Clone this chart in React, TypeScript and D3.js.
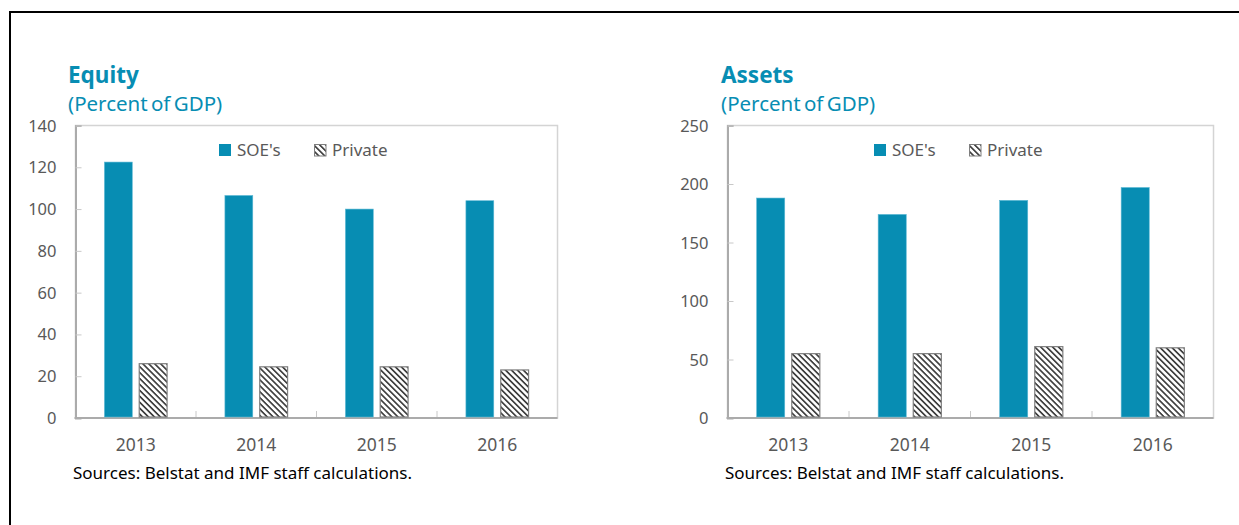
import React, { useEffect, useRef } from "react";
import * as d3 from "d3";

const years = ["2013", "2014", "2015", "2016"];
const seriesNames = ["SOE's", "Private"];

const equitySoe = [122.5, 106.5, 100, 104];
const equityPrivate = [26, 24.5, 24.5, 23];
const equityTicks = [0, 20, 40, 60, 80, 100, 120, 140];

const assetsSoe = [188, 174, 186, 197];
const assetsPrivate = [55, 55, 61, 60];
const assetsTicks = [0, 50, 100, 150, 200, 250];

const TEAL = "#078db3";
const FONT = "'Noto Sans', sans-serif";

interface IPanel {
  title: string
  soe: number[]
  priv: number[]
  ticks: number[]
  left: number
  right: number
  titleX: number
  legendX: number
}

const panels: IPanel[] = [
  { title: "Equity", soe: equitySoe, priv: equityPrivate, ticks: equityTicks,
    left: 75.5, right: 557.5, titleX: 68, legendX: 219 },
  { title: "Assets", soe: assetsSoe, priv: assetsPrivate, ticks: assetsTicks,
    left: 727.5, right: 1213.5, titleX: 721, legendX: 874 },
];

const App: React.FC = (): JSX.Element => {
  const ref = useRef<SVGSVGElement>(null);

  useEffect(() => {
    const svg = d3.select(ref.current);
    svg.selectAll("*").remove();

    // hatch pattern for the private bars (downward diagonal)
    const defs = svg.append("defs");
    const pat = defs.append("pattern")
      .attr("id", "hatch")
      .attr("patternUnits", "userSpaceOnUse")
      .attr("width", 4.2)
      .attr("height", 4.2)
      .attr("patternTransform", "rotate(45)");
    pat.append("rect").attr("width", 4.2).attr("height", 4.2).attr("fill", "#ffffff");
    pat.append("rect").attr("width", 4.2).attr("height", 1.7).attr("fill", "#404040");

    // outer frame
    svg.append("line").attr("x1", 10).attr("x2", 10).attr("y1", 11).attr("y2", 525)
      .attr("stroke", "#000").attr("stroke-width", 2);
    svg.append("line").attr("x1", 9).attr("x2", 1239).attr("y1", 12).attr("y2", 12)
      .attr("stroke", "#000").attr("stroke-width", 2);

    const top = 125.5, bottom = 418;

    panels.forEach(p => {
      const g = svg.append("g");
      const w = p.right - p.left;

      const x0 = d3.scaleBand<string>().domain(years).range([p.left, p.right]).padding(0);
      const bw = x0.bandwidth();
      const x1 = d3.scaleBand<string>().domain(seriesNames)
        .range([bw * 0.24, bw * 0.76]).paddingInner(0.2).paddingOuter(0);
      const y = d3.scaleLinear()
        .domain([0, p.ticks[p.ticks.length - 1]])
        .range([bottom, top]);

      // titles
      g.append("text").attr("x", p.titleX).attr("y", 82.5)
        .attr("font-family", FONT).attr("font-weight", "bold").attr("font-size", 22.5)
        .attr("fill", TEAL).text(p.title);
      g.append("text").attr("x", p.titleX).attr("y", 111)
        .attr("font-family", FONT).attr("font-size", 20.5)
        .attr("fill", TEAL).attr("word-spacing", -2).text("(Percent of GDP)");

      // plot frame
      g.append("rect").attr("x", p.left).attr("y", top).attr("width", w).attr("height", bottom - top)
        .attr("fill", "none").attr("stroke", "#d4d4d4").attr("stroke-width", 1.5);

      // y axis
      const yAxis = g.append("g").attr("transform", `translate(${p.left},0)`)
        .call(d3.axisRight(y).tickValues(p.ticks).tickSize(6).tickFormat(() => ""));
      yAxis.select(".domain").attr("stroke", "#ababab").attr("stroke-width", 2);
      yAxis.selectAll(".tick line").attr("stroke", "#c8c8c8").attr("stroke-width", 1);

      g.selectAll(".ylab")
        .data(p.ticks)
        .enter().append("text")
        .attr("class", "ylab")
        .attr("x", p.left - 19)
        .attr("y", (d: number) => y(d) + 6)
        .attr("text-anchor", "end")
        .attr("font-family", FONT).attr("font-size", 16.5)
        .attr("fill", "#595959")
        .text((d: number) => d.toString());

      // x axis with ticks at category boundaries
      const bounds = years.slice(1).map(d => x0(d) || 0);
      g.selectAll(".xtick")
        .data(bounds)
        .enter().append("line")
        .attr("x1", (d: number) => d).attr("x2", (d: number) => d)
        .attr("y1", bottom).attr("y2", bottom - 7)
        .attr("stroke", "#c8c8c8").attr("stroke-width", 1);
      g.append("line").attr("x1", p.left - 1).attr("x2", p.right).attr("y1", bottom).attr("y2", bottom)
        .attr("stroke", "#ababab").attr("stroke-width", 2);

      g.selectAll(".xlab")
        .data(years)
        .enter().append("text")
        .attr("x", (d: string) => (x0(d) || 0) + bw / 2)
        .attr("y", 451)
        .attr("text-anchor", "middle")
        .attr("font-family", FONT).attr("font-size", 17.5)
        .attr("fill", "#595959")
        .text((d: string) => d);

      // bars
      const rows = years.map((yr, i) => ({ yr, soe: p.soe[i], priv: p.priv[i] }));
      g.selectAll(".soe")
        .data(rows)
        .enter().append("rect")
        .attr("x", d => (x0(d.yr) || 0) + (x1("SOE's") || 0))
        .attr("width", x1.bandwidth())
        .attr("y", d => y(d.soe))
        .attr("height", d => bottom - 1 - y(d.soe))
        .attr("fill", TEAL)
        .attr("stroke", "#5cb8d4").attr("stroke-width", 0.6);
      g.selectAll(".priv")
        .data(rows)
        .enter().append("rect")
        .attr("x", d => (x0(d.yr) || 0) + (x1("Private") || 0))
        .attr("width", x1.bandwidth())
        .attr("y", d => y(d.priv))
        .attr("height", d => bottom - 1 - y(d.priv))
        .attr("fill", "url(#hatch)")
        .attr("stroke", "#7f7f7f").attr("stroke-width", 1.2);

      // legend
      const lg = g.append("g").attr("transform", `translate(${p.legendX},144)`);
      lg.append("rect").attr("x", 0).attr("y", 0).attr("width", 12).attr("height", 12).attr("fill", TEAL);
      lg.append("text").attr("x", 18).attr("y", 12).attr("font-family", FONT).attr("font-size", 17)
        .attr("fill", "#595959").text(seriesNames[0]);
      lg.append("rect").attr("x", 95.5).attr("y", 0.5).attr("width", 11.5).attr("height", 11.5)
        .attr("fill", "url(#hatch)").attr("stroke", "#7f7f7f").attr("stroke-width", 1);
      lg.append("text").attr("x", 113).attr("y", 12).attr("font-family", FONT).attr("font-size", 17)
        .attr("fill", "#595959").text(seriesNames[1]);

      // source note
      g.append("text").attr("x", p.left - 2.5).attr("y", 479)
        .attr("font-family", FONT).attr("font-size", 17)
        .attr("fill", "#000").text("Sources: Belstat and IMF staff calculations.");
    });
  });

  return (
    <div>
      <svg ref={ref} width={1239} height={525}
           style={{ position: "absolute", left: 0, top: 0, background: "#fff" }}></svg>
    </div>
  );
};

export default App;
